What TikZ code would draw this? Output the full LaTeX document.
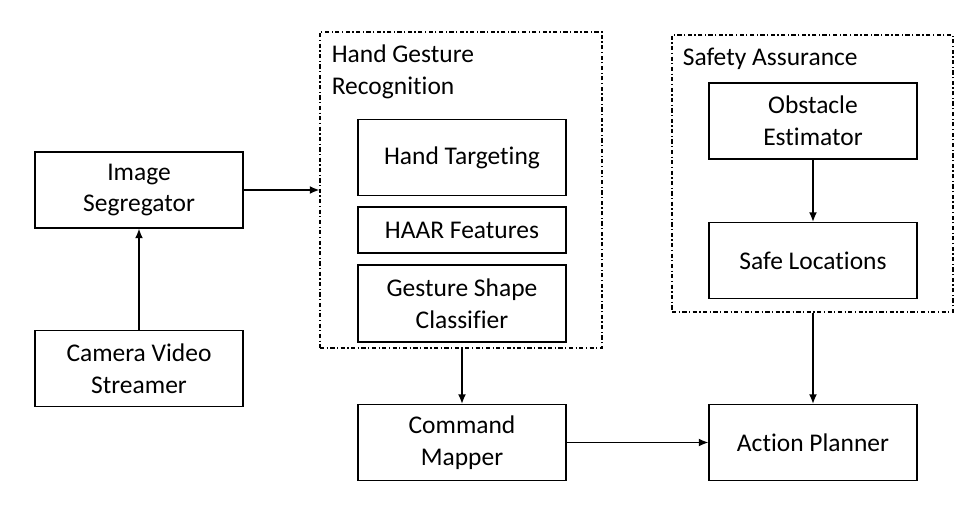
\documentclass[tikz,border=0pt]{standalone}
\usepackage{fontspec}
\setmainfont{Carlito}[Ligatures={NoCommon}]
\usetikzlibrary{positioning,arrows.meta,calc}
\newcommand{\blkfont}{\fontsize{14.5}{18}\selectfont}
\newlength{\bw}
\setlength{\bw}{4.16cm}
\newlength{\bh}
\setlength{\bh}{1.52cm}
\tikzset{
  blk/.style  ={draw,rectangle,line width=0.6pt,
                minimum width=\bw,minimum height=\bh,align=center,font=\blkfont},
  grp/.style  ={draw,rectangle,line width=0.6pt,inner sep=0pt,
                dash pattern=on 2.4pt off 1.4pt on 0.7pt off 1.4pt},
  glabel/.style={anchor=north west,inner sep=0pt,align=left,font=\blkfont},
  line/.style ={-{Latex[length=5.5pt,width=4.5pt]},line width=0.9pt}
}

\begin{document}
\begin{tikzpicture}

\useasboundingbox (0,0) rectangle (19.56,-10.16);

\node[blk] (seg) at (2.78,-3.8)  {Image\\Segregator};
\node[blk] (cam) at ($(seg)+(0,-3.57)$) {Camera Video\\Streamer};

% hand gesture recognition
\node[grp,minimum width=5.64cm,minimum height=6.32cm] (hgr) at (9.22,-3.8) {};
\node[glabel] (hgrlbl) at ($(hgr.north west)+(0.24,-0.26)$) {Hand Gesture\\Recognition};
\node[blk] (hand) at (9.24,-3.15) {Hand Targeting};
\node[blk,minimum height=0.92cm] (haar) at ($(hand)+(0,-1.45)$) {HAAR Features};
\node[blk,minimum height=1.54cm] (gest) at ($(haar)+(0,-1.47)$) {Gesture Shape\\Classifier};

\node[blk] (cmd) at (9.24,-8.85) {Command\\Mapper};

% safety assurance
\node[grp,minimum width=5.62cm,minimum height=5.54cm] (safety) at (16.25,-3.47) {};
\node[glabel] (safelbl) at ($(safety.north west)+(0.22,-0.26)$) {Safety Assurance};
\node[blk] (obst) at (16.26,-2.42) {Obstacle\\Estimator};
\node[blk] (safe) at ($(obst)+(0,-2.79)$) {Safe Locations};

\node[blk] (act) at (16.26,-8.85) {Action Planner};

\draw[line] (cam)  -- (seg);
\draw[line] (seg)  -- (hgr.west |- seg);
\draw[line] (hgr.south -| cmd) -- (cmd);
\draw[line] (obst) -- (safe);
\draw[line] (safety.south -| act) -- (act);
\draw[line] (cmd)  -- (act);

\end{tikzpicture}
\end{document}
